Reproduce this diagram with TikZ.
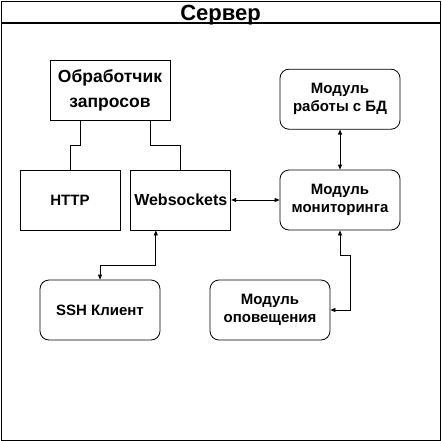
\documentclass[tikz,border=0pt]{standalone}
\usepackage{fontspec}
\setmainfont{Liberation Sans}
\usetikzlibrary{positioning,arrows.meta}

\begin{document}
\begin{tikzpicture}[
    x=1pt, y=-1pt,
    node distance=10pt,
    >={Triangle[length=5pt,width=4pt]},
    block/.style={
        rectangle, draw=black, line width=0.8pt, font=\bfseries\fontsize{15}{18}\selectfont,
        align=center, minimum width=100pt, minimum height=60pt, inner sep=0pt
    },
    module/.style={
        block, rounded corners=9pt, minimum width=120pt
    },
    link/.style={draw, line width=0.8pt}
]
    \useasboundingbox (0,0) rectangle (441,441);

    \node (srv) [draw, line width=1.3pt, minimum width=439pt, minimum height=439pt, anchor=north west, inner sep=0pt] at (1,1) {};
    \node (ttl) [font=\bfseries\fontsize{22}{26}\selectfont, anchor=base] at (220.5,21) {Сервер};
    \draw [line width=1.3pt] ([yshift=-22pt]srv.north west) -- ([yshift=-22pt]srv.north east);

    \node (req) [block, minimum width=120pt, font=\bfseries\fontsize{17.5}{25}\selectfont] at (110,90) {Обработчик\\запросов};
    \node (http) [block] at (70,200) {HTTP};
    \node (ws) [block, right=10pt of http, font=\bfseries\fontsize{16}{18}\selectfont] {Websockets};

    \node (mon) [module] at (340,200) {Модуль\\мониторинга};
    \node (db) [module, above=40pt of mon] {Модуль\\работы с БД};

    \node (ssh) [module] at (100,310) {SSH Клиент};
    \node (ntf) [module] at (270,310) {Модуль\\оповещения};

    \draw [link] ([xshift=-30pt]req.south) -- ++(0,25) -| (http.north);
    \draw [link] ([xshift=40pt]req.south) -- ++(0,25) -| (ws.north);

    \path [<->, link]
        (ws) edge (mon)
        (db) edge (mon);

    \draw [<->, link] ([xshift=-25pt]ws.south) -- ++(0,35) -| (ssh.north);
    \draw [<->, link] (mon.south) -- ++(0,25) -| ([xshift=20pt]ntf.east) -- (ntf.east);
\end{tikzpicture}
\end{document}
